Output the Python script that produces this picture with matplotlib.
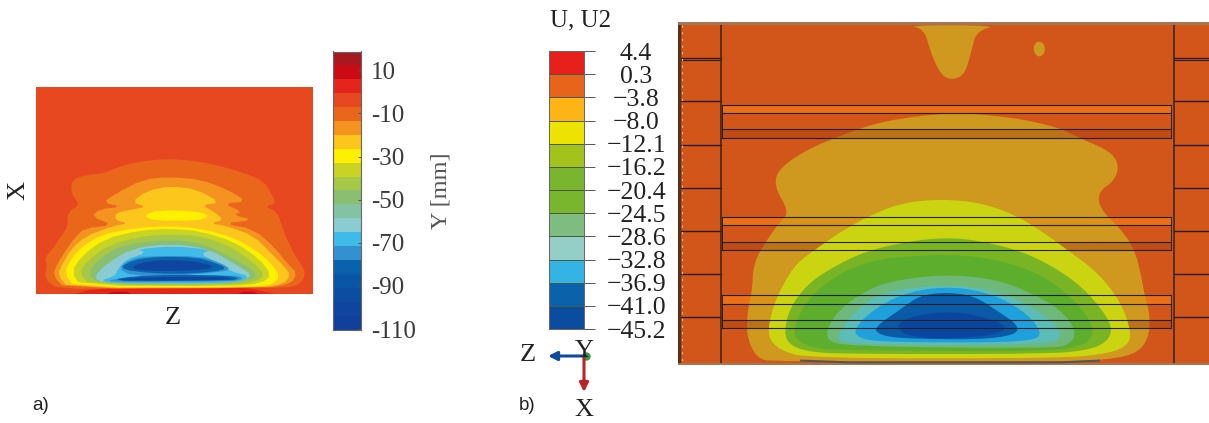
# -*- coding: utf-8 -*-
"""
Vertical displacement maps: a) measured, b) simulated
Contour outlines are read off the picture, in the pixels of a crop of each panel
"""

import matplotlib
matplotlib.use("Agg")
import matplotlib.pyplot as plt
import numpy as np

W = 1209.0
H = 423.0
SERIF = "Liberation Serif"
SANS = "Liberation Sans"
TXT = "#3a3a3a"

# colorbar a
a_edges = [18.75, 12.3, 5.9, -0.6, -7.0, -13.5, -19.9, -26.4, -32.8, -39.3, -45.7,
           -52.2, -58.6, -65.1, -71.5, -78.0, -84.4, -90.9, -97.3, -103.8, -110.2]
a_colors = ["#a8181f", "#cc0a16", "#e6251a", "#e8481f", "#e9661b", "#f49320", "#fdc61c",
            "#fff000", "#c8d324", "#a6c748", "#8abf72", "#83c3a4", "#8accd2", "#3ebbe8",
            "#3491d0", "#0a62ac", "#0a56a6", "#0c4da2", "#10459f", "#11409c"]
a_ticks = [10, -10, -30, -50, -70, -90, -110]
a_ticklabels = ["10", "-10", "-30", "-50", "-70", "-90", "-110"]

# panel a contours, outermost first
a_base = "#e8481f"
a_red = [(225, 792), (265, 780), (400, 770), (600, 768), (750, 775), (825, 792)]
a_dark1 = [(320, 792), (340, 785), (380, 785), (395, 792)]
a_dark2 = [(715, 792), (730, 785), (760, 785), (775, 792)]
a_l1 = [(175, 778), (132, 745), (142, 705), (133, 685), (163, 650), (183, 620), (203, 590),
        (203, 545), (240, 525), (213, 490), (216, 448), (260, 435), (310, 430), (350, 413),
        (410, 396), (500, 386), (590, 393), (660, 408), (730, 428), (792, 453), (817, 495),
        (828, 520), (795, 530), (832, 545), (847, 590), (862, 630), (882, 670), (902, 700),
        (918, 730), (902, 762), (860, 774), (700, 772), (400, 774)]
a_l2 = [(195, 776), (158, 735), (173, 700), (198, 660), (223, 625), (253, 595), (340, 585),
        (275, 560), (298, 538), (365, 530), (310, 518), (343, 493), (430, 448), (510, 441),
        (600, 448), (682, 478), (742, 515), (670, 520), (727, 545), (700, 555), (762, 570),
        (670, 580), (762, 598), (822, 650), (862, 700), (892, 730), (872, 762), (800, 774)]
a_l3 = [(205, 774), (173, 735), (188, 700), (213, 658), (258, 618), (340, 588), (385, 580),
        (345, 570), (348, 548), (400, 538), (440, 530), (395, 517), (440, 483), (510, 468),
        (590, 478), (662, 518), (605, 525), (642, 545), (672, 570), (630, 580), (682, 588),
        (762, 618), (812, 668), (852, 708), (872, 735), (852, 762), (780, 773)]
a_l4 = [(225, 772), (193, 730), (213, 688), (248, 648), (308, 613), (400, 595), (500, 588),
        (600, 595), (702, 623), (772, 663), (812, 698), (842, 740), (812, 767), (750, 771)]
a_l4b = [(430, 555), (480, 540), (600, 545), (630, 560), (590, 572), (460, 572)]
a_l5 = [(240, 767), (215, 725), (245, 678), (315, 626), (420, 601), (510, 596), (600, 603),
        (705, 636), (780, 688), (815, 735), (785, 760), (700, 768)]
a_l6 = [(270, 764), (238, 730), (260, 695), (325, 645), (430, 618), (510, 613), (600, 618),
        (690, 648), (762, 698), (795, 735), (765, 757), (680, 766)]
a_l7 = [(300, 762), (262, 730), (300, 685), (365, 645), (510, 628), (610, 640), (730, 700),
        (775, 735), (750, 752), (650, 764)]
a_l8 = [(310, 759), (280, 742), (322, 700), (395, 656), (510, 641), (625, 656), (710, 705),
        (758, 735), (730, 750), (640, 762)]
a_l10 = [(300, 752), (345, 738), (355, 715), (380, 688), (440, 668), (410, 658), (520, 648),
         (635, 660), (600, 672), (655, 698), (695, 725), (748, 738), (725, 754), (640, 760),
         (340, 760)]
a_l11 = [(395, 737), (355, 715), (390, 688), (440, 678), (600, 678), (665, 700), (695, 720),
         (640, 728), (520, 738)]
a_l11b = [(312, 753), (380, 742), (500, 735), (700, 735), (735, 745), (700, 754), (400, 757)]
a_l12 = [(360, 712), (400, 690), (470, 680), (590, 682), (650, 700), (682, 715), (640, 726),
         (520, 733), (400, 725)]
a_l12b = [(338, 749), (400, 739), (520, 734), (680, 737), (722, 745), (690, 752), (400, 753)]
a_l13 = [(388, 712), (450, 691), (570, 691), (645, 708), (620, 719), (500, 723), (420, 721)]
a_l13b = [(350, 749), (450, 741), (660, 740), (702, 747), (640, 750), (380, 752)]

# colorbar b
b_ticklabels = ["4.4", "0.3", "\u22123.8", "\u22128.0", "\u221212.1", "\u221216.2", "\u221220.4",
                "\u221224.5", "\u221228.6", "\u221232.8", "\u221236.9", "\u221241.0", "\u221245.2"]
b_colors = ["#e8201c", "#e8641a", "#fdb515", "#ede200", "#a3c31c", "#79b52e",
            "#7ab52e", "#7ebc80", "#93cfc6", "#34b3e5", "#0a62aa", "#0a4c9f"]

# panel b contours, outermost first
b_base = "#d2561a"
b_gold = "#cf981e"
b_notch = [(690, 30), (740, 42), (758, 110), (788, 178), (820, 194), (858, 178), (877, 110),
           (892, 48), (955, 30)]
b_spot = [(1060, 88), (1075, 76), (1092, 88), (1092, 114), (1075, 126), (1060, 112)]
b_l1 = [(300, 1038), (250, 1028), (220, 960), (224, 880), (236, 830), (241, 740), (282, 670),
        (318, 620), (345, 590), (300, 510), (316, 458), (398, 402), (500, 358), (620, 316),
        (820, 290), (1000, 306), (1132, 336), (1203, 372), (1284, 408), (1310, 450), (1294, 497),
        (1248, 530), (1253, 580), (1312, 638), (1354, 700), (1374, 780), (1384, 840), (1400, 900),
        (1395, 972), (1354, 1018), (1250, 1034), (1140, 1038)]
b_l2 = [(400, 1028), (316, 1003), (280, 960), (296, 878), (326, 808), (367, 742), (428, 697),
        (498, 647), (588, 596), (680, 561), (790, 551), (902, 561), (1003, 597), (1083, 647),
        (1163, 707), (1244, 768), (1314, 858), (1345, 950), (1335, 988), (1283, 1013), (1140, 1028)]
b_l3 = [(400, 1008), (346, 988), (330, 950), (346, 878), (397, 807), (468, 757), (568, 707),
        (700, 676), (810, 666), (902, 676), (1022, 706), (1124, 757), (1204, 817), (1264, 888),
        (1290, 940), (1274, 978), (1222, 1003), (1100, 1015), (500, 1015)]
b_l4 = [(420, 998), (376, 978), (355, 950), (386, 868), (467, 787), (588, 732), (720, 721),
        (810, 716), (952, 731), (1083, 777), (1184, 857), (1240, 940), (1214, 988), (1100, 1008),
        (500, 1003)]
b_l5 = [(520, 993), (445, 972), (476, 898), (547, 837), (638, 796), (800, 776), (952, 791),
        (1063, 837), (1144, 887), (1186, 950), (1164, 988), (1100, 998)]
b_l6 = [(560, 988), (496, 978), (485, 960), (536, 887), (618, 826), (810, 806), (952, 826),
        (1043, 867), (1114, 917), (1146, 960), (1104, 988)]
b_l7 = [(620, 979), (548, 968), (533, 940), (596, 877), (698, 826), (830, 812), (954, 840),
        (1044, 897), (1082, 950), (1066, 973), (940, 981)]
b_l8 = [(680, 969), (608, 958), (593, 935), (676, 877), (726, 840), (800, 830), (884, 840),
        (954, 886), (1016, 930), (1006, 958), (900, 972)]
b_l9 = [(700, 964), (652, 935), (696, 902), (820, 886), (924, 906), (988, 935), (944, 958),
        (820, 969)]

# stiffeners: top, two inner lines, bottom
b_stiffeners = [(268, 292, 342, 368), (603, 629, 679, 703), (838, 864, 914, 938)]
b_side_lines = [127, 258, 388, 518, 646, 775, 903]


def smooth(points, n=2):
    p = np.array(points, dtype=float)
    for _ in range(n):
        q = np.roll(p, -1, axis=0)
        p = np.column_stack([0.75*p + 0.25*q, 0.25*p + 0.75*q]).reshape(-1, 2)
    return p


def area(ax, points, color, n=2, **kw):
    p = smooth(points, n)
    ax.fill(p[:, 0], p[:, 1], color=color, lw=0, **kw)


def px_axes(x0, y0, x1, y1):
    return fig.add_axes([x0/W, 1 - y1/H, (x1 - x0)/W, (y1 - y0)/H])


fig = plt.figure(figsize=(W/100, H/100), dpi=100)

# panel a
ax = px_axes(36, 86.7, 312.5, 294)
ax.set_xlim(108, 938)
ax.set_ylim(792, 170)
ax.axis("off")
ax.add_patch(plt.Rectangle((108, 170), 830, 622, color=a_base, lw=0))
ax.fill(*zip(*a_red), color=a_colors[2], lw=0)
ax.fill(*zip(*a_dark1), color=a_colors[1], lw=0)
ax.fill(*zip(*a_dark2), color=a_colors[1], lw=0)
layers = [(a_l1, a_colors[4]), (a_l2, a_colors[5]), (a_l3, a_colors[6]), (a_l4, a_colors[7]),
          (a_l4b, a_colors[7]), (a_l5, a_colors[8]), (a_l6, a_colors[9]), (a_l7, a_colors[10]),
          (a_l8, a_colors[12]), (a_l10, a_colors[13]), (a_l11, a_colors[14]), (a_l11b, a_colors[14]),
          (a_l12, a_colors[15]), (a_l12b, a_colors[15]), (a_l13, a_colors[18]), (a_l13b, a_colors[18])]
for outline, c in layers:
    area(ax, outline, c, n=1)

# colorbar a
cax = px_axes(332.5, 51.5, 361, 329.5)
cax.pcolormesh([0, 1], a_edges[::-1], np.arange(20).reshape(-1, 1),
               cmap=matplotlib.colors.ListedColormap(a_colors[::-1]))
cax.set_ylim(-110.2, 18.75)
cax.set_xticks([])
cax.yaxis.tick_right()
cax.set_yticks(a_ticks)
cax.set_yticklabels(a_ticklabels, family=SERIF, fontsize=18, color=TXT)
cax.tick_params(axis="y", direction="in", length=2, width=0.7, color="#555555", pad=7)
for s in cax.spines.values():
    s.set_color("#666666")
    s.set_linewidth(0.8)

# panel b
bx = px_axes(678, 22, 1209, 365)
bx.set_xlim(20, 1572)
bx.set_ylim(1048, 20)
bx.axis("off")
bx.add_patch(plt.Rectangle((20, 20), 1552, 1028, color=b_base, lw=0))
area(bx, b_notch, b_gold)
area(bx, b_spot, b_gold)
for y0, y1, y2, y3 in b_stiffeners:
    bx.fill_between([150, 1462], y0, y1, color="#e8621a", lw=0)
area(bx, b_l1, b_gold)
# the top strip stays a bit more orange over the gold
for y0, y1, y2, y3 in b_stiffeners:
    bx.fill_between([150, 1462], y0, y1, color="#f08a10", alpha=0.35, lw=0)
    bx.fill_between([150, 1462], y2, y3, color="#a03a10", alpha=0.4, lw=0)
layers_b = [(b_l2, "#cbd410"), (b_l3, "#78b424"), (b_l4, "#5cae2c"),
            (b_l5, "#6db87a"), (b_l6, "#5bbcb8"), (b_l7, "#1ea0dc"), (b_l8, "#0a5aa8"),
            (b_l9, "#0a46a0")]
for outline, c in layers_b:
    area(bx, outline, c)

# stiffener outlines over the contours
for y0, y1, y2, y3 in b_stiffeners:
    for y in (y0, y1, y2, y3):
        bx.plot([150, 1462], [y, y], color="#222222", lw=0.8)
    bx.plot([150, 150, 1462, 1462], [y3, y0, y0, y3], color="#222222", lw=0.7)

# side strips and frame
for y in b_side_lines:
    bx.plot([20, 147], [y, y], color="#2a1a10", lw=1.0)
    bx.plot([1470, 1572], [y, y], color="#2a1a10", lw=1.0)
bx.plot([20, 147], [135, 135], color="#2a1a10", lw=0.8)
bx.plot([1470, 1572], [135, 135], color="#2a1a10", lw=0.8)
for x in (147, 1470):
    bx.plot([x, x], [20, 1048], color="#3a2a20", lw=1.2)
bx.plot([22, 22], [20, 1048], color="#5a3018", lw=2.5)
bx.plot([32, 32], [30, 1040], color="#d8b8a0", lw=0.8, ls=(0, (2, 4)))
bx.plot([20, 1572], [24, 24], color="#a07858", lw=2.0)
bx.plot([20, 1572], [1044, 1044], color="#a07858", lw=2.0)
bx.plot([380, 520, 1140, 1250], [1035, 1040, 1040, 1035], color="#555555", lw=1.5)

# colorbar b
dax = px_axes(549, 51, 584, 329)
dax.pcolormesh([0, 1], np.arange(13), np.arange(12).reshape(-1, 1),
               cmap=matplotlib.colors.ListedColormap(b_colors[::-1]),
               edgecolors="#4a5a40", linewidth=0.5)
dax.set_ylim(0, 12)
dax.set_xticks([])
dax.yaxis.tick_right()
dax.set_yticks(np.arange(13))
dax.set_yticklabels(b_ticklabels[::-1], family=SERIF, fontsize=18.5, color="#222222", ha="center")
dax.tick_params(axis="y", length=8, width=0.7, color="#555555", pad=29.5)
for s in dax.spines.values():
    s.set_color("#666666")
    s.set_linewidth(0.7)

# labels in figure pixels
over = fig.add_axes([0, 0, 1, 1])
over.set_xlim(0, W)
over.set_ylim(H, 0)
over.axis("off")
over.patch.set_alpha(0)


def label(x, y, s, size=19, font=SERIF, color="#222222", rot=0):
    over.text(x, y, s, fontsize=size, family=font, color=color, rotation=rot,
              ha="center", va="center")


label(18, 190, "X", rot=90)
label(173, 318, "Z")
label(441, 191, "Y [mm]", size=17.5, color="#555555", rot=90)
label(41, 406, "a)", size=13.5, font=SANS)
label(527, 406, "b)", size=13.5, font=SANS)
label(581, 20, "U, U2", size=18)
label(528, 355, "Z")
label(584, 410, "X")

# triad
over.annotate("", xy=(548, 356), xytext=(586, 356),
              arrowprops=dict(arrowstyle="-|>", color="#0f4a9c", lw=2.2, mutation_scale=13,
                              shrinkA=0, shrinkB=0))
over.annotate("", xy=(584, 392), xytext=(584, 358),
              arrowprops=dict(arrowstyle="-|>", color="#b8242a", lw=2.2, mutation_scale=13,
                              shrinkA=0, shrinkB=0))
over.plot([586], [356], "o", color="#3f9a3a", ms=6, mew=0)
label(584, 351, "Y")

fig.savefig("out.png", dpi=100)
